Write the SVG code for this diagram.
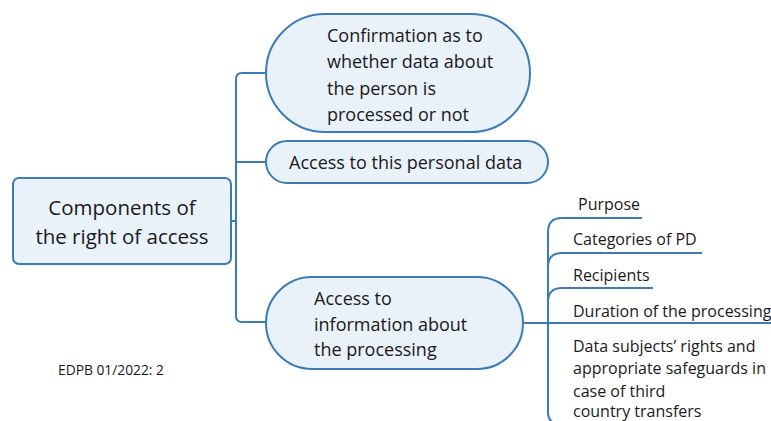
<svg xmlns="http://www.w3.org/2000/svg" width="771" height="421" viewBox="0 0 771 421">
<style>
.node{fill:#e9f1f9;stroke:#3b7cb8;stroke-width:2}
.con{fill:none;stroke:#3b7cb8;stroke-width:2}
text{font-family:"Open Sans","Noto Sans","DejaVu Sans",sans-serif;fill:#1a1a1a}
.t1{font-size:20.5px}
.t2{font-size:18px}
.t3{font-size:16px}
.ft{font-size:13.8px}
</style>
<rect width="771" height="421" fill="#ffffff"/>
<g id="connectors">
<path class="con" d="M231 221 H236"/>
<path class="con" d="M266 73 H242 Q236 73 236 79 V316 Q236 322 242 322 H266"/>
<path class="con" d="M236 162 H266"/>
<path class="con" d="M523 323 H771"/>
<path class="con" d="M642 218 H562 Q548 218 548 232 V412 Q548 424 560 424"/>
<path class="con" d="M702 253 H562 Q548 253 548 267"/>
<path class="con" d="M653 288 H562 Q548 288 548 302"/>
</g>
<g id="root">
<rect class="node" x="13" y="178" width="218" height="86" rx="6"/>
<text class="t1" x="122" y="215" text-anchor="middle">Components of</text>
<text class="t1" x="122" y="244" text-anchor="middle">the right of access</text>
</g>
<g id="n1">
<rect class="node" x="266" y="14" width="264" height="118" rx="59"/>
<text class="t2" x="327" y="42">Confirmation as to</text>
<text class="t2" x="327" y="68">whether data about</text>
<text class="t2" x="327" y="95">the person is</text>
<text class="t2" x="327" y="121">processed or not</text>
</g>
<g id="n2">
<rect class="node" x="266" y="141" width="282" height="42" rx="21"/>
<text class="t2" x="289" y="169">Access to this personal data</text>
</g>
<g id="n3">
<rect class="node" x="266" y="277" width="257" height="92" rx="46"/>
<text class="t2" x="314" y="305">Access to</text>
<text class="t2" x="314" y="331">information about</text>
<text class="t2" x="314" y="356">the processing</text>
</g>
<g id="purpose"><text class="t3" x="578" y="210">Purpose</text></g>
<g id="categories"><text class="t3" x="573" y="245">Categories of PD</text></g>
<g id="recipients"><text class="t3" x="573" y="281">Recipients</text></g>
<g id="duration"><text class="t3" x="573" y="317">Duration of the processing</text></g>
<g id="rights">
<text class="t3" x="573" y="352">Data subjects’ rights and</text>
<text class="t3" x="573" y="374">appropriate safeguards in</text>
<text class="t3" x="573" y="397">case of third</text>
<text class="t3" x="573" y="417">country transfers</text>
</g>
<text class="ft" x="58" y="375">EDPB 01/2022: 2</text>
</svg>
